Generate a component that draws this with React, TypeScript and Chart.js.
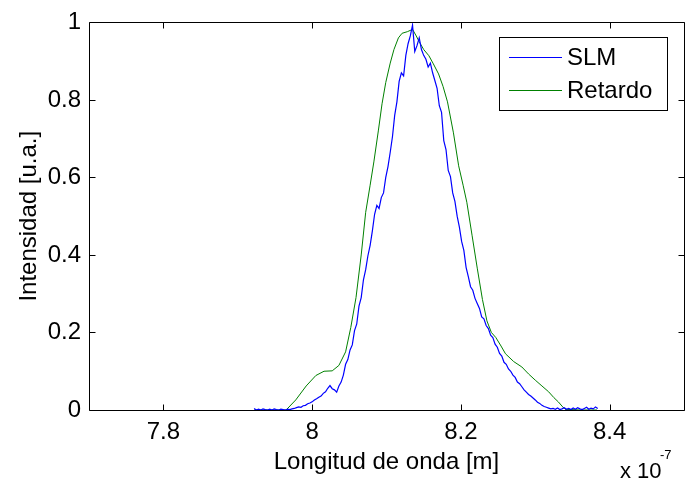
import { useEffect, useRef } from "react";
import { Chart, registerables } from "chart.js";

Chart.register(...registerables);

const xTicks = [7.8, 8, 8.2, 8.4];
const yTicks = [0, 0.2, 0.4, 0.6, 0.8, 1];
const xTitle = "Longitud de onda [m]";
const yTitle = "Intensidad [u.a.]";
const seriesNames = ["SLM", "Retardo"];

const slmX = [
  7.922, 7.925, 7.928, 7.931, 7.934, 7.937, 7.94, 7.943, 7.946, 7.949,
  7.952, 7.955, 7.958, 7.961, 7.964, 7.967, 7.97, 7.973, 7.976, 7.979,
  7.982, 7.985, 7.988, 7.991, 7.994, 7.997, 8.0, 8.003, 8.006, 8.009,
  8.012, 8.015, 8.018, 8.021, 8.024, 8.027, 8.03, 8.033, 8.036, 8.039,
  8.042, 8.045, 8.048, 8.051, 8.054, 8.057, 8.06, 8.063, 8.066, 8.069,
  8.072, 8.075, 8.078, 8.081, 8.084, 8.087, 8.09, 8.093, 8.096, 8.099,
  8.102, 8.105, 8.108, 8.111, 8.114, 8.117, 8.12, 8.123, 8.126, 8.129,
  8.132, 8.135, 8.138, 8.141, 8.144, 8.147, 8.15, 8.153, 8.156, 8.159,
  8.162, 8.165, 8.168, 8.171, 8.174, 8.177, 8.18, 8.183, 8.186, 8.189,
  8.192, 8.195, 8.198, 8.201, 8.204, 8.207, 8.21, 8.213, 8.216, 8.219,
  8.222, 8.225, 8.228, 8.231, 8.234, 8.237, 8.24, 8.243, 8.246, 8.249,
  8.252, 8.255, 8.258, 8.261, 8.264, 8.267, 8.27, 8.273, 8.276, 8.279,
  8.282, 8.285, 8.288, 8.291, 8.294, 8.297, 8.3, 8.303, 8.306, 8.309,
  8.312, 8.315, 8.318, 8.321, 8.324, 8.327, 8.33, 8.333, 8.336, 8.339,
  8.342, 8.345, 8.348, 8.351, 8.354, 8.357, 8.36, 8.363, 8.366, 8.369,
  8.372, 8.375, 8.378, 8.381, 8.384,
];

const slmY = [
  0.004, 0.0, 0.002, 0.0, 0.003, 0.001, 0.0, 0.002, 0.0, 0.003,
  0.001, 0.0, 0.002, 0.001, 0.0, 0.002, 0.001, 0.003, 0.004, 0.006,
  0.008, 0.007, 0.011, 0.012, 0.016, 0.018, 0.021, 0.026, 0.029, 0.033,
  0.036, 0.043, 0.047, 0.056, 0.063, 0.055, 0.052, 0.046, 0.062, 0.072,
  0.09, 0.118, 0.13, 0.155, 0.168, 0.205, 0.222, 0.268, 0.29, 0.336,
  0.362, 0.398, 0.425, 0.462, 0.505, 0.528, 0.52, 0.548, 0.56, 0.6,
  0.628, 0.665, 0.705, 0.76, 0.795, 0.848, 0.87, 0.862, 0.915, 0.945,
  0.965, 0.993, 0.925, 0.94, 0.96, 0.93, 0.915, 0.905, 0.885, 0.895,
  0.87, 0.85, 0.83, 0.785, 0.768, 0.695, 0.672, 0.618, 0.602, 0.56,
  0.538, 0.5, 0.472, 0.435, 0.412, 0.368, 0.344, 0.318, 0.309, 0.288,
  0.275, 0.262, 0.24, 0.235, 0.218, 0.21, 0.193, 0.187, 0.17, 0.162,
  0.146, 0.139, 0.123, 0.118, 0.106, 0.1, 0.09, 0.084, 0.072, 0.068,
  0.06, 0.052, 0.046, 0.04, 0.036, 0.031, 0.026, 0.02, 0.017, 0.012,
  0.009, 0.007, 0.005, 0.003, 0.004, 0.002, 0.005, 0.001, 0.003, 0.006,
  0.002, 0.004, 0.001, 0.005, 0.002, 0.006, 0.003, 0.001, 0.004, 0.007,
  0.002, 0.005, 0.003, 0.008, 0.004,
];

const retardoX = [
  7.922, 7.965, 7.978, 7.992, 8.005, 8.016, 8.027, 8.036, 8.045, 8.052,
  8.059, 8.066, 8.072, 8.078, 8.083, 8.089, 8.094, 8.099, 8.105, 8.11,
  8.116, 8.121, 8.128, 8.135, 8.14, 8.144, 8.15, 8.157, 8.163, 8.17,
  8.176, 8.182, 8.19, 8.197, 8.203, 8.208, 8.215, 8.222, 8.229, 8.235,
  8.241, 8.247, 8.254, 8.26, 8.271, 8.282, 8.291, 8.3, 8.309, 8.318,
  8.325, 8.331, 8.336, 8.34, 8.36, 8.383,
];

const retardoY = [
  0, 0, 0.026, 0.062, 0.089, 0.1, 0.101, 0.115, 0.15, 0.213,
  0.29, 0.4, 0.51, 0.58, 0.64, 0.72, 0.79, 0.845, 0.895, 0.93,
  0.96, 0.972, 0.976, 0.982, 0.965, 0.95, 0.93, 0.914, 0.893, 0.867,
  0.835, 0.795, 0.715, 0.63, 0.58, 0.536, 0.451, 0.366, 0.285, 0.23,
  0.2, 0.187, 0.165, 0.145, 0.125, 0.111, 0.093, 0.077, 0.062, 0.047,
  0.032, 0.021, 0.01, 0.002, 0, 0,
];

const FONT = "'Liberation Sans', Arial, Helvetica, sans-serif";
const BLUE = "#0000ff";
const GREEN = "#008000";

const framePlugin = {
  id: "matlabFrame",
  afterDraw(chart: any) {
    const { ctx, chartArea } = chart;
    const { left, right, top, bottom } = chartArea;
    const xs = chart.scales.x;
    const ys = chart.scales.y;
    const L = Math.floor(left) + 0.5;
    const R = Math.floor(right) + 0.5;
    const T = Math.floor(top) + 0.5;
    const B = Math.floor(bottom) + 0.5;
    ctx.save();
    ctx.strokeStyle = "#000";
    ctx.lineWidth = 1;
    ctx.beginPath();
    ctx.rect(L, T, R - L, B - T);
    const tl = 6;
    xTicks.forEach((v) => {
      const px = Math.round(xs.getPixelForValue(v)) + 0.5;
      ctx.moveTo(px, B);
      ctx.lineTo(px, B - tl);
      ctx.moveTo(px, T);
      ctx.lineTo(px, T + tl);
    });
    yTicks.forEach((v) => {
      const py = Math.round(ys.getPixelForValue(v)) + 0.5;
      ctx.moveTo(L, py);
      ctx.lineTo(L + tl, py);
      ctx.moveTo(R, py);
      ctx.lineTo(R - tl, py);
    });
    ctx.stroke();

    // legend
    const lx = 499.5, ly = 37.5, lw = 168, lh = 73;
    ctx.fillStyle = "#fff";
    ctx.fillRect(lx, ly, lw, lh);
    ctx.strokeRect(lx, ly, lw, lh);
    const rows = [
      { name: seriesNames[0], color: BLUE, y: 57.5 },
      { name: seriesNames[1], color: GREEN, y: 90.5 },
    ];
    ctx.font = `24px ${FONT}`;
    ctx.textBaseline = "middle";
    ctx.textAlign = "left";
    rows.forEach((r) => {
      ctx.strokeStyle = r.color;
      ctx.beginPath();
      ctx.moveTo(509, r.y);
      ctx.lineTo(562, r.y);
      ctx.stroke();
      ctx.fillStyle = "#000";
      ctx.fillText(r.name, 567, r.y + 1);
    });

    // exponent label
    ctx.fillStyle = "#000";
    ctx.font = `22px ${FONT}`;
    ctx.textBaseline = "alphabetic";
    ctx.fillText("x 10", 620, 478);
    ctx.font = `13px ${FONT}`;
    ctx.fillText("-7", 660, 459);
    ctx.restore();
  },
};

export default function App() {
  const ref = useRef<HTMLCanvasElement>(null);
  useEffect(() => {
    const canvas = ref.current;
    if (!canvas) return;
    const chart = new Chart(canvas, {
      type: "scatter",
      data: {
        datasets: [
          {
            label: seriesNames[0],
            data: slmX.map((x, i) => ({ x, y: slmY[i] })),
            showLine: true,
            borderColor: BLUE,
            backgroundColor: BLUE,
            borderWidth: 1.2,
            pointRadius: 0,
            tension: 0,
          },
          {
            label: seriesNames[1],
            data: retardoX.map((x, i) => ({ x, y: retardoY[i] })),
            showLine: true,
            borderColor: GREEN,
            backgroundColor: GREEN,
            borderWidth: 1,
            pointRadius: 0,
            tension: 0,
          },
        ],
      },
      options: {
        responsive: false,
        animation: false,
        devicePixelRatio: 1,
        layout: { padding: { left: 0, right: 4, top: 18, bottom: 0 } },
        plugins: { legend: { display: false }, tooltip: { enabled: false } },
        scales: {
          x: {
            type: "linear",
            min: 7.7,
            max: 8.5,
            grid: { display: false, drawTicks: false },
            border: { display: false },
            afterBuildTicks: (s: any) => {
              s.ticks = xTicks.map((v) => ({ value: v }));
            },
            afterFit: (s: any) => {
              s.height = 78;
            },
            ticks: {
              color: "#000",
              font: { family: FONT, size: 24 },
              padding: 8,
              maxRotation: 0,
              autoSkip: false,
              callback: (v: any) => String(Number(v)),
            },
            title: {
              display: true,
              text: xTitle,
              color: "#000",
              font: { family: FONT, size: 24 },
              padding: { top: 0, bottom: 11 },
            },
          },
          y: {
            type: "linear",
            min: 0,
            max: 1,
            grid: { display: false, drawTicks: false },
            border: { display: false },
            afterBuildTicks: (s: any) => {
              s.ticks = yTicks.map((v) => ({ value: v }));
            },
            afterFit: (s: any) => {
              s.width = 89;
            },
            ticks: {
              color: "#000",
              font: { family: FONT, size: 24 },
              padding: 8,
              autoSkip: false,
              callback: (v: any) => String(Number(v)),
            },
            title: {
              display: true,
              text: yTitle,
              color: "#000",
              font: { family: FONT, size: 24 },
              padding: { top: 15, bottom: 0 },
            },
          },
        },
      },
      plugins: [framePlugin],
    });
    return () => chart.destroy();
  }, []);
  return (
    <div style={{ position: "absolute", left: 0, top: 0, width: 688, height: 488, background: "#fff" }}>
      <canvas ref={ref} width={688} height={488} style={{ display: "block", width: 688, height: 488 }} />
    </div>
  );
}
